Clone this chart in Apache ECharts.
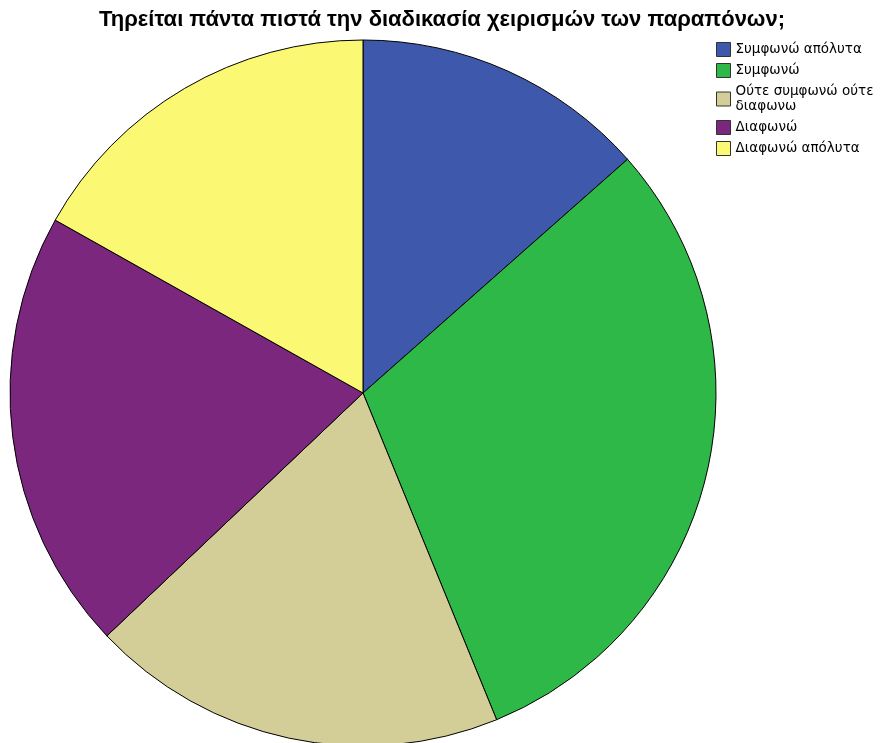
<!DOCTYPE html>
<html>
<head>
<meta charset="utf-8">
<script src="https://cdn.jsdelivr.net/npm/echarts@6/dist/echarts.min.js"></script>
<style>html,body{margin:0;padding:0;background:#fff}#c{width:887px;height:743px}</style>
</head>
<body>
<div id="c"></div>
<script>
const titleText = 'Τηρείται πάντα πιστά την διαδικασία χειρισμών των παραπόνων;';
const categories = ['Συμφωνώ απόλυτα', 'Συμφωνώ', 'Ούτε συμφωνώ ούτε\nδιαφωνω', 'Διαφωνώ', 'Διαφωνώ απόλυτα'];
const values = [12, 27, 17, 18, 15];
const colors = ['#3E58AC', '#2EB848', '#D3CE97', '#7B277D', '#FBF873'];

const chart = echarts.init(document.getElementById('c'), null, {renderer: 'canvas'});
chart.setOption({
  animation: false,
  backgroundColor: '#ffffff',
  title: {
    text: titleText,
    left: 442, top: 9, textAlign: 'center', padding: 0,
    textStyle: {fontFamily: 'Liberation Sans, Arial, sans-serif', fontWeight: 'bold', fontSize: 22, color: '#000'}
  },
  legend: {
    orient: 'vertical',
    left: 716, top: 42, padding: 0,
    itemWidth: 14, itemHeight: 14, itemGap: 6,
    icon: 'rect',
    selectedMode: false,
    itemStyle: {borderColor: '#333', borderWidth: 1},
    textStyle: {fontFamily: 'DejaVu Sans, sans-serif', fontSize: 13.5, color: '#000', lineHeight: 15, padding: [0, 0, 0, 0]},
    data: categories
  },
  series: [{
    type: 'pie',
    center: [363, 393],
    radius: 353,
    startAngle: 90,
    clockwise: true,
    label: {show: false},
    labelLine: {show: false},
    emphasis: {disabled: true},
    itemStyle: {borderColor: '#000', borderWidth: 1},
    data: categories.map((c, i) => ({name: c, value: values[i], itemStyle: {color: colors[i]}}))
  }]
});
</script>
</body>
</html>
